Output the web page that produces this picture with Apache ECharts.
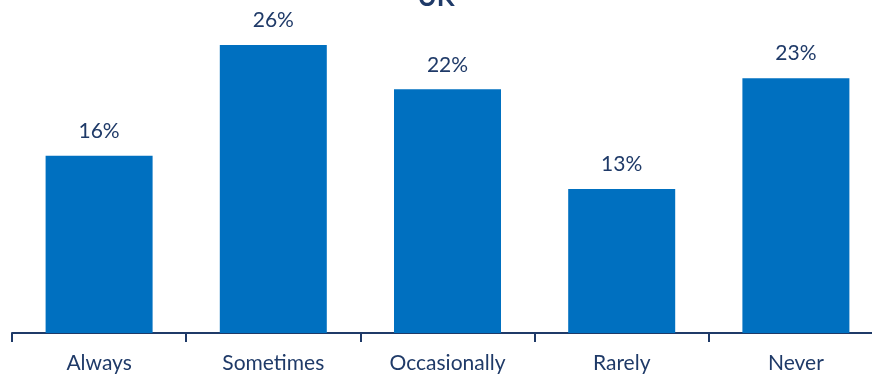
<!DOCTYPE html>
<html>
<head>
<meta charset="utf-8">
<style>
  html, body { margin: 0; padding: 0; background: #fff; }
  #chart { width: 872px; height: 380px; }
</style>
<script src="https://cdn.jsdelivr.net/npm/echarts@6/dist/echarts.min.js"></script>
</head>
<body>
<div id="chart"></div>
<script>
// Frequency responses, UK
const categories = ['Always', 'Sometimes', 'Occasionally', 'Rarely', 'Never'];
const shares = [16, 26, 22, 13, 23];
const chartTitle = 'UK';

const textColor = '#1F3A68';
const barColor = '#0070C0';
const fontFamily = 'Lato, "Open Sans", sans-serif';

const chart = echarts.init(document.getElementById('chart'));
chart.setOption({
  animation: false,
  title: {
    text: chartTitle,
    left: 'center',
    top: -20,
    textStyle: { color: textColor, fontSize: 26, fontWeight: 'bold', fontFamily: fontFamily }
  },
  grid: {
    left: 12, width: 871, top: 0.6, bottom: 47,
    containLabel: false,
    outerBoundsMode: 'none'
  },
  xAxis: {
    type: 'category',
    data: categories,
    axisLine: { lineStyle: { color: textColor, width: 2 } },
    axisTick: { show: true, length: 9, lineStyle: { color: textColor, width: 2 } },
    axisLabel: { color: textColor, fontSize: 21, fontFamily: fontFamily, margin: 20 }
  },
  yAxis: {
    type: 'value',
    min: 0,
    max: 30,
    show: false,
    splitLine: { show: false }
  },
  series: [{
    type: 'bar',
    data: shares,
    barWidth: 107,
    itemStyle: { color: barColor },
    label: {
      show: true,
      position: 'top',
      distance: 14,
      formatter: p => p.value + '%',
      color: textColor,
      fontSize: 21,
      fontFamily: fontFamily
    }
  }]
});
</script>
</body>
</html>
